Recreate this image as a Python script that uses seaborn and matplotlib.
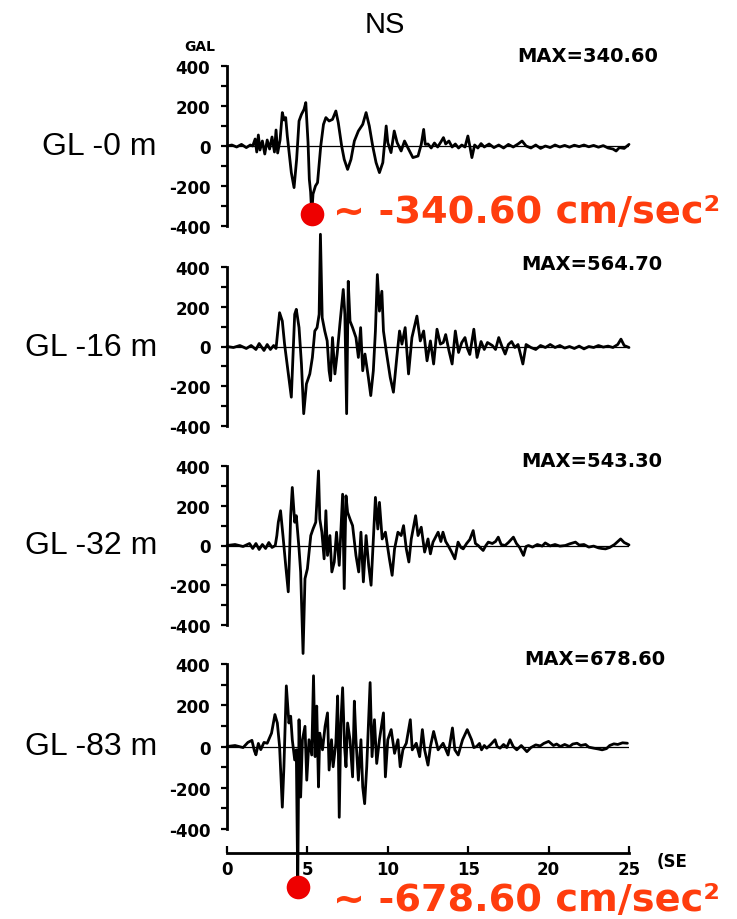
import matplotlib
matplotlib.use("Agg")
import matplotlib.pyplot as plt
import seaborn as sns
import pandas as pd

# ---- accelerograms (time in s, acceleration in gal) ----
gl0_t = [0, 0.3, 0.6, 0.9, 1.2, 1.45, 1.6, 1.75, 1.85, 1.95, 2.05, 2.2, 2.35, 2.5, 2.65, 2.8, 2.95,
         3.05, 3.15, 3.3, 3.44, 3.55, 3.65, 3.75, 4.0, 4.17, 4.33, 4.48, 4.63, 4.79, 4.9, 5.04, 5.12,
         5.2, 5.27, 5.35, 5.5, 5.63, 5.83, 6.0, 6.15, 6.35, 6.56, 6.77, 6.92, 7.13, 7.29, 7.5, 7.71,
         7.92, 8.17, 8.44, 8.65, 8.85, 9.06, 9.27, 9.48, 9.69, 9.9, 10.0, 10.2, 10.4, 10.58, 10.83,
         11.04, 11.3, 11.56, 11.88, 12.08, 12.23, 12.33,
         12.5, 12.7, 12.9, 13.1, 13.3, 13.46, 13.6, 13.8, 14.0, 14.2, 14.4, 14.6, 14.8, 14.98, 15.1,
         15.23, 15.4, 15.6, 15.8, 16.0, 16.3, 16.6, 16.9, 17.2, 17.5, 17.8, 18.1, 18.35, 18.6, 18.9,
         19.2, 19.5, 19.8, 20.1, 20.4, 20.7, 21.0, 21.3, 21.6, 21.9, 22.2, 22.5, 22.8, 23.1, 23.4,
         23.7, 24.0, 24.2, 24.4, 24.7, 25.0]
gl0_a = [0, 5, -5, 8, -8, 5, 0, 35, -30, 55, -20, 25, -40, 30, -15, 45, -30,
         80, -35, 30, 167, 130, 142, 50, -133, -208, -67, 125, 158, 183, 217, 17, -167,
         -230, -340.60, -240, -200, -183, 0, 108, 142, 125, 133, 175, 117, 0, -67, -117, -67,
         25, 75, 108, 167, 100, 0, -83, -133, -83, 100, 17, -33, 75, 17, -25,
         25, -17, -58, -50, 8, 83, 8,
         10, -10, 15, -5, 20, 42, 10, 25, -5, 10, -10, 5, -5, 50, 0,
         -58, 5, -10, 12, -5, 10, -8, 5, -10, 8, -5, 10, 25, 0, -10,
         5, -12, 0, -8, 5, -5, 3, -6, 4, -3, 5, -4, 3, -6, 2,
         -10, -15, -25, -8, -12, 8]

gl16_t = [0, 0.4, 0.8, 1.2, 1.5, 1.8, 2.0, 2.3, 2.5, 2.7, 2.9, 3.05, 3.27, 3.44, 3.58, 3.79, 4.0,
          4.1, 4.21, 4.31, 4.48, 4.63, 4.77, 4.94, 5.15, 5.31, 5.46, 5.6, 5.73, 5.81, 5.92, 6.08,
          6.23, 6.35, 6.44, 6.56, 6.71, 6.85, 7.02, 7.23, 7.33, 7.44, 7.54, 7.65, 7.81, 8.02, 8.17,
          8.31, 8.44, 8.58, 8.79, 8.94, 9.1, 9.23, 9.35, 9.48, 9.63, 9.73, 9.9, 10.15, 10.35, 10.56,
          10.73, 10.88, 11.08, 11.29, 11.5, 11.81, 12.02, 12.23, 12.44, 12.65, 12.85, 13.06, 13.27,
          13.45, 13.6, 13.8, 14.0, 14.2, 14.4, 14.6, 14.8, 14.95, 15.1, 15.35, 15.55, 15.8, 16.0,
          16.2, 16.5, 16.7, 16.9, 17.1, 17.3, 17.5, 17.7, 17.9, 18.1, 18.4, 18.6, 18.9, 19.2, 19.5,
          19.8, 20.1, 20.4, 20.7, 21.0, 21.3, 21.6, 21.9, 22.2, 22.5, 22.8, 23.1, 23.4, 23.7, 24.0,
          24.3, 24.5, 24.7, 25.0]
gl16_a = [0, -5, 5, -10, 5, -15, 15, -20, 10, -15, 5, -10, 170, 128, 12, -122, -255,
          -55, 162, 187, 95, -88, -338, -188, -138, -55, 78, 95, 162, 564.70, 145, 78,
          28, -122, -172, 45, -138, -38, 112, 287, 162, -338, 328, 128, 95, 45, -55,
          95, -122, -38, -155, -247, -122, 78, 362, 178, 278, 78, -22, -155, -230, -55,
          78, 12, 95, -138, 45, 153, 28, 78, -72, 28, -88, 87, 12,
          20, 60, -20, -88, 78, -30, 20, 45, -10, -40, 87, -55, 25, -15,
          20, 5, -15, 45, 0, -38, 10, 25, -5, 10, -88, 10, -5, -15, 5,
          -5, 10, -5, 5, -8, 0, -10, 2, -12, 0, -5, 5, -3, 2, -5,
          10, 37, 5, -5]

gl32_t = [0, 0.5, 1.0, 1.4, 1.6, 1.8, 2.0, 2.2, 2.4, 2.6, 2.8, 3.0, 3.1, 3.19, 3.33, 3.48, 3.65,
          3.81, 3.9, 3.96, 4.06, 4.21, 4.31, 4.48, 4.58, 4.73, 4.85, 5.0, 5.21, 5.35, 5.52, 5.69,
          5.77, 5.9, 6.04, 6.15, 6.25, 6.4, 6.52, 6.67, 6.81, 6.98, 7.19, 7.29, 7.4, 7.5, 7.65,
          7.81, 8.02, 8.19, 8.33, 8.48, 8.65, 8.81, 8.96, 9.1, 9.23, 9.38, 9.48, 9.65, 9.85, 10.1,
          10.27, 10.42, 10.63, 10.83, 10.98, 11.15, 11.31, 11.46, 11.73, 11.88, 12.08, 12.29, 12.5,
          12.65, 12.81, 13.13, 13.3, 13.43, 13.6, 13.75, 13.95, 14.17, 14.37, 14.55, 14.69, 14.9,
          15.1, 15.31, 15.45, 15.62, 15.8, 15.93, 16.1, 16.25, 16.5, 16.7, 16.87, 17.05, 17.29,
          17.5, 17.81, 18.0, 18.2, 18.44, 18.6, 18.75, 19.0, 19.3, 19.6, 19.79, 20.1, 20.4, 20.7,
          21.04, 21.3, 21.67, 21.9, 22.2, 22.5, 22.8, 23.1, 23.3, 23.54, 23.8, 24.1, 24.3, 24.48,
          24.7, 25.0]
gl32_a = [0, 5, -5, 10, -15, 10, -20, 5, -15, 15, -10, 0, 50, 117, 175, 50, -100,
          -233, -17, 150, 292, 117, 150, -17, -133, -543.30, -167, -117, 50, 83, 117, 375,
          133, 67, -67, 175, -50, 50, -133, -83, 67, -100, 258, -217, 250, 167, 133,
          100, -50, -133, 67, -183, 50, -100, -200, 33, 242, 83, 217, 33, 67, -67,
          -150, -17, 67, 50, 100, -17, -83, 33, 150, 50, 92, -33, 33,
          -42, 17, 67, 20, 67, 20, 0, -30, -67, 17, -10, -17, 10,
          30, 75, 10, 0, -15, -25, 0, 17, 10, 20, 42, 5, 0,
          15, 42, 10, -10, -50, -5, 0, -8, 5, -3, 13, -2, 5, -3,
          0, 8, 17, 2, 5, -8, -3, -12, -15, -17, -10, 5, 20, 33,
          15, 3]

gl83_t = [0, 0.5, 1.0, 1.3, 1.55, 1.7, 1.8, 1.95, 2.1, 2.3, 2.5, 2.77, 2.98, 3.13, 3.27, 3.44,
          3.54, 3.69, 3.85, 3.96, 4.06, 4.21, 4.31, 4.4, 4.48, 4.58, 4.69, 4.85, 4.96, 5.1, 5.27,
          5.38, 5.48, 5.58, 5.69, 5.77, 5.94, 6.1, 6.25, 6.35, 6.5, 6.6, 6.77, 6.88, 6.98, 7.08,
          7.19, 7.31, 7.4, 7.5, 7.65, 7.81, 7.92, 8.02, 8.17, 8.33, 8.44, 8.56, 8.69, 8.9, 9.02,
          9.17, 9.31, 9.48, 9.73, 9.85, 10.0, 10.21, 10.42, 10.63, 10.77, 10.94, 11.15, 11.4,
          11.52, 11.77, 11.98, 12.15, 12.29, 12.5, 12.65, 12.85, 13.13, 13.44, 13.75, 14.02,
          14.17, 14.38, 14.65, 14.94, 15.21, 15.35, 15.52, 15.7, 15.83, 16.0, 16.15, 16.4, 16.67,
          16.8, 16.98, 17.2, 17.4, 17.6, 17.8, 18.02, 18.3, 18.65, 18.9, 19.2, 19.48, 19.7, 20.0,
          20.3, 20.5, 20.73, 21.0, 21.3, 21.5, 21.77, 22.0, 22.3, 22.5, 22.81, 23.1, 23.33, 23.6,
          23.8, 24.06, 24.3, 24.6, 24.9]
gl83_a = [0, 5, -5, 20, 30, -20, -40, 15, -15, 20, 16, 65, 155, 114, 0, -294,
          -98, 294, 114, 147, 33, -65, -16, -678.60, 130, -245, 33, 98, -163, 33, -41,
          343, -49, 196, -196, 65, -16, 98, 163, -114, 33, -98, 16, 245, -343, 114,
          285, 0, -98, 114, 33, -147, 220, 33, -163, 33, -196, -277, -98, 310, -49,
          130, -82, 33, 163, -147, 33, 82, -33, 33, -98, -16, 16, 130,
          -16, 16, -49, 82, -16, -90, 0, 73, -16, 16, -41, 90,
          -16, -41, 33, 82, 33, -5, 0, 15, -16, 5, -8, 10, 33,
          0, -8, 10, -5, 33, 0, -16, 5, -25, -5, 8, 3, 15, 25,
          5, 12, 0, 10, 0, 12, 16, 5, 10, -3, -8, -12, -16, -10,
          5, 13, 10, 18, 16]

station_labels = ["GL -0 m", "GL -16 m", "GL -32 m", "GL -83 m"]
max_values = [340.60, 564.70, 543.30, 678.60]
marked_panels = [0, 3]          # records whose negative peak is called out
y_ticks = [-400, -200, 0, 200, 400]
x_ticks = [0, 5, 10, 15, 20, 25]

traces = [(gl0_t, gl0_a), (gl16_t, gl16_a), (gl32_t, gl32_a), (gl83_t, gl83_a)]

# ---- figure ----
W, H = 737, 920
sns.set_style("white")
plt.rcParams["font.family"] = ["DejaVu Sans"]
for key in ("text.color", "xtick.color", "ytick.color", "axes.labelcolor", "axes.edgecolor"):
    plt.rcParams[key] = "black"
fig = plt.figure(figsize=(W / 100, H / 100), dpi=100)


def fx(px):
    return px / W


def fy(py):
    return 1 - py / H


# panel frames in pixels: (top of +400, bottom of axes, lower y limit)
x_left, x_right = 227, 629
rows = [(67, 227, -400), (268, 427, -400), (467, 626, -400), (665, 854, -516)]

red_text = "#ff3d0d"
red_dot = "#ee0000"
tick_font = dict(family="DejaVu Sans", weight="bold", size=12)

axes = []
for i, ((t, a), (top, bot, ylo)) in enumerate(zip(traces, rows)):
    ax = fig.add_axes([fx(x_left), fy(bot), fx(x_right) - fx(x_left), (bot - top) / H])
    ax.patch.set_alpha(0)
    df = pd.DataFrame({"t": t, "a": a})
    sns.lineplot(data=df, x="t", y="a", ax=ax, color="black", lw=2.0,
                 estimator=None, sort=False, clip_on=False, zorder=3,
                 solid_joinstyle="round")
    ax.axhline(0, color="black", lw=0.9, zorder=2)
    ax.set_xlim(0, 25)
    ax.set_ylim(ylo, 400)
    ax.set_xlabel("")
    ax.set_ylabel("")

    for s in ("top", "right"):
        ax.spines[s].set_visible(False)
    ax.spines["left"].set_bounds(-400, 400)
    ax.spines["left"].set_linewidth(2)

    ax.set_yticks(y_ticks)
    ax.set_yticks(range(-400, 401, 100), minor=True)
    ax.set_yticklabels([str(v) for v in y_ticks], fontdict=tick_font)
    ax.tick_params(axis="y", which="both", direction="out", length=4, width=1.6,
                   pad=8, left=True)

    if i < 3:
        ax.spines["bottom"].set_visible(False)
        ax.set_xticks([])
    else:
        ax.spines["bottom"].set_linewidth(2)
        ax.set_xticks(x_ticks)
        ax.set_xticklabels([str(v) for v in x_ticks], fontdict=tick_font)
        ax.tick_params(axis="x", which="both", direction="in", length=5, width=1.6,
                       pad=5, bottom=True)

    # station label on the zero line
    fig.text(fx(157), fy((top + (bot if i < 3 else 830)) / 2), station_labels[i],
             ha="right", va="center", family="Liberation Sans", fontsize=23)
    axes.append(ax)

# peak-acceleration captions
max_pos = [(517, 57), (521, 265), (521, 462), (524, 660)]
for v, (px, py) in zip(max_values, max_pos):
    fig.text(fx(px), fy(py), f"MAX={v:.2f}", ha="left", va="center",
             family="DejaVu Sans", weight="bold", fontsize=14)

# called-out negative peaks
text_pos = {0: (333, 213), 3: (333, 901)}
for i in marked_panels:
    t, a = traces[i]
    k = a.index(min(a))
    axes[i].plot([t[k]], [a[k]], "o", color=red_dot, ms=17, mec="none",
                 clip_on=False, zorder=5)
    px, py = text_pos[i]
    fig.text(fx(px), fy(py), f"~ {a[k]:.2f} cm/sec²", ha="left", va="center",
             color=red_text, weight="bold", fontsize=27.5, family="DejaVu Sans")

fig.text(fx(385), fy(25), "NS", ha="center", va="center",
         family="Liberation Sans", fontsize=21)
fig.text(fx(200), fy(47), "GAL", ha="center", va="center",
         family="DejaVu Sans", weight="bold", fontsize=10)
fig.text(fx(657), fy(862), "(SE", ha="left", va="center", **tick_font)

fig.savefig("out.png", dpi=100)
